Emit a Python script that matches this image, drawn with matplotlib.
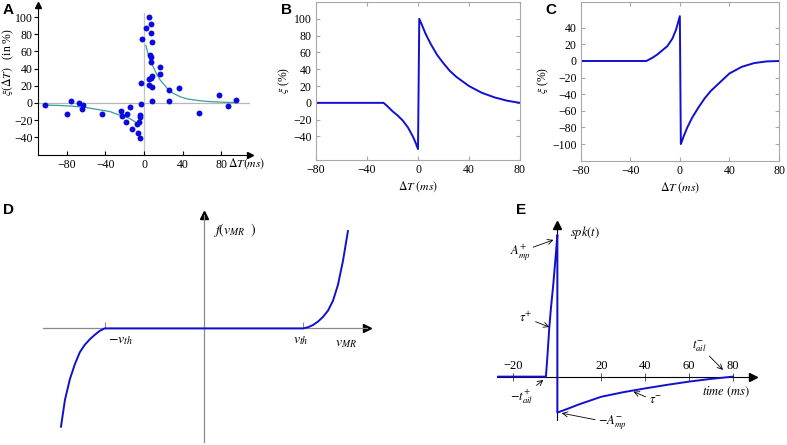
import matplotlib
matplotlib.use('Agg')
import matplotlib.pyplot as plt

plt.rcParams['font.family'] = 'serif'
plt.rcParams['font.serif'] = ['Liberation Serif', 'DejaVu Serif']
plt.rcParams['mathtext.fontset'] = 'stix'

W, H = 787, 445

# ---------------- panel A : data + fit ----------------
a_dt = [-102.9, -80.3, -75.8, -67.2, -64.7, -63.0, -44.0, -24.2, -23.2, -18.7,
        -18.0, -14.5, -12.1, -7.6, -6.2, -4.8, -4.2, -3.8, -4.2, -3.5,
        -3.5, -2.4, 1.7, 5.2, 6.9, 7.3, 8.0, 5.9, 7.3, 6.9,
        4.8, 5.2, 8.0, 6.9, 8.7, 8.0, 16.6, 16.3, 26.0, 26.3,
        36.0, 57.1, 77.9, 86.9, 95.9]
a_xi = [-2.3, -13.2, 2.7, 0.0, -7.4, -2.7, -13.2, -9.3, -15.1, -22.5,
        -13.2, -5.0, -30.6, -24.4, -34.5, -21.7, -14.0, -15.9, -41.1, 22.9,
        -0.8, 74.4, 87.6, 99.6, 91.9, 81.7, 70.5, 55.4, 48.0, 53.9,
        27.5, 20.9, 19.0, 29.5, 31.4, 2.3, 42.2, 33.7, 15.1, 2.3,
        17.4, -11.2, 9.3, -3.5, 3.1]

fit_l_dt = [-104.6, -90, -76.9, -63, -49, -35.3, -25.6, -21.5, -15, -9.4, -7.6]
fit_l_xi = [-2.3, -2.8, -3.5, -4.8, -7.4, -10, -14, -15.1, -18, -21.7, -23.6]
fit_r_dt = [1.9, 4, 6.2, 10, 13, 16.6, 20, 25.3, 30, 37.4, 45, 57.5, 70, 85, 96]
fit_r_xi = [67, 58, 50, 41, 34, 27, 22.5, 15.5, 11.5, 7.3, 4.7, 2.7, 1.5, 0.8, 0.5]

# ---------------- panel B / C : model curves ----------------
b_dt = [-80, -27, -24, -20, -16, -12, -8, -4, -2, 0, 1, 3, 6, 10, 15, 20, 25, 30, 40, 50, 60, 70, 80]
b_xi = [0, 0, -4, -10, -15, -21, -29, -40, -47, -55, 100, 93, 82, 70, 57, 47, 38, 31, 20, 12, 6.5, 2.5, 0]

c_dt = [-80, -27, -22, -18, -14, -10, -6, -3, 0, 0.8, 3, 6, 10, 15, 20, 25, 30, 40, 50, 60, 70, 80]
c_xi = [0, 0, 4, 8, 13, 18, 27, 38, 54, -100, -91, -80, -68, -56, -45, -36, -29, -15, -7, -2.5, -0.5, 0]

# ---------------- panel D : f(v_MR) ----------------
d_v = [-1.44, -1.4, -1.35, -1.3, -1.25, -1.2, -1.15, -1.1, -1.05, -1.0,
       1.0, 1.05, 1.1, 1.15, 1.2, 1.25, 1.3, 1.35, 1.4, 1.45]
d_f = [-0.99, -0.72, -0.51, -0.36, -0.24, -0.165, -0.11, -0.065, -0.025, 0,
       0, 0.012, 0.035, 0.07, 0.117, 0.18, 0.28, 0.44, 0.68, 0.98]

# ---------------- panel E : spk(t) ----------------
e_t = [-27, -5.2, -4.5, -3.65, -3, -1.8, -0.6, 0, 0, 5, 10, 20, 30, 40, 50, 60, 70, 80]
e_y = [0, 0, 15, 35, 47, 66, 88, 100, -25.4, -22.5, -19.5, -14.2, -11, -8.3, -5.8, -3.5, -1.6, 0]
e_ticks = [-20, 20, 40, 60, 80]

BLUE = '#1010d0'
TEAL = '#3a9c9c'
GRAY = '#a8a8a8'


def box(l, t, w, h):
    return [l / W, 1 - (t + h) / H, w / W, h / H]


fig = plt.figure(figsize=(W / 100, H / 100), dpi=100)

# =====================================================
# A
# =====================================================
axA = fig.add_axes(box(38, 5, 212, 150))
axA.set_xlim(-110, 110)
axA.set_ylim(-60.5, 114)
for s in ['top', 'right']:
    axA.spines[s].set_visible(False)
for s in ['left', 'bottom']:
    axA.spines[s].set_linewidth(0.8)
axA.axhline(0, color='#b8b8b8', lw=0.9, zorder=0)
axA.axvline(0, ymax=0.95, color='#c4c4c4', lw=0.9, zorder=0)
axA.plot(fit_l_dt, fit_l_xi, color=TEAL, lw=0.9)
axA.plot(fit_r_dt, fit_r_xi, color=TEAL, lw=0.9)
axA.scatter(a_dt, a_xi, s=18, color='#0a0ae0', zorder=3, linewidths=0)
axA.set_xticks([-80, -40, 0, 40, 80])
axA.set_yticks([-40, -20, 0, 20, 40, 60, 80, 100])
axA.tick_params(axis='x', direction='in', length=3, labelsize=8.5, pad=3)
axA.tick_params(axis='y', direction='out', length=3, labelsize=8.5, pad=1)
axA.plot([1], [0], marker='>', ms=5, color='k', transform=axA.transAxes, clip_on=False)
axA.plot([0], [1], marker='^', ms=5, color='k', transform=axA.transAxes, clip_on=False)
axA.text(87, -70.5, r'$\Delta T(ms)$', fontsize=8.5, ha='left', va='center')
axA.set_ylabel(r'$\xi(\Delta T)$   (in %)', fontsize=8.5)
axA.yaxis.set_label_coords(-0.105, 0.62)

# =====================================================
# B and C
# =====================================================
def frame_panel(ax, ylim, yticks):
    ax.set_xlim(-80, 80)
    ax.set_ylim(*ylim)
    ax.set_xticks([-80, -40, 0, 40, 80])
    ax.set_yticks(yticks)
    for s in ax.spines.values():
        s.set_color(GRAY)
        s.set_linewidth(0.8)
    ax.tick_params(direction='in', length=3, color=GRAY, labelsize=8.5,
                   top=True, right=True, pad=3)
    ax.set_xlabel(r'$\Delta T\ (ms)$', fontsize=8.5)
    ax.xaxis.set_label_coords(0.5, -0.125)
    ax.set_ylabel(r'$\xi$ (%)', fontsize=8.5)


axB = fig.add_axes(box(316, 2, 204, 158))
axB.plot(b_dt, b_xi, color=BLUE, lw=1.4)
frame_panel(axB, (-68, 120), [-40, -20, 0, 20, 40, 60, 80, 100])
axB.yaxis.set_label_coords(-0.12, 0.506)

axC = fig.add_axes(box(580.7, 2, 198.3, 158.7))
axC.plot(c_dt, c_xi, color=BLUE, lw=1.4)
frame_panel(axC, (-120, 71), [-100, -80, -60, -40, -20, 0, 20, 40])
axC.yaxis.set_label_coords(-0.15, 0.508)

# =====================================================
# D
# =====================================================
axD = fig.add_axes(box(43, 215, 323.7, 226.7))
axD.set_xlim(-1.621, 1.639)
axD.set_ylim(-1.141, 1.142)
axD.spines['top'].set_visible(False)
axD.spines['right'].set_visible(False)
axD.spines['left'].set_position(('data', 0))
axD.spines['bottom'].set_position(('data', 0))
for s in ['left', 'bottom']:
    axD.spines[s].set_color('#8a8a8a')
    axD.spines[s].set_linewidth(0.9)
axD.set_yticks([])
axD.set_xticks([-1, 1])
axD.set_xticklabels([])
axD.tick_params(axis='x', direction='in', length=4, color='#8a8a8a')
axD.plot(d_v, d_f, color=BLUE, lw=1.4, zorder=3)
axD.plot([1], [0], marker='>', ms=6, color='k', transform=axD.get_yaxis_transform(), clip_on=False)
axD.plot([0], [1], marker='^', ms=6, color='k', transform=axD.get_xaxis_transform(), clip_on=False)
axD.text(0.09, 0.99, r'$f(v_{MR}\ \ )$', fontsize=10, ha='left', va='center')
axD.text(-0.97, -0.13, r'$-v_{th}$', fontsize=10, ha='left', va='center')
axD.text(0.90, -0.13, r'$v_{th}$', fontsize=10, ha='left', va='center')
axD.text(1.32, -0.15, r'$v_{MR}$', fontsize=10, ha='left', va='center')

# =====================================================
# E
# =====================================================
axE = fig.add_axes(box(497, 225, 256.3, 195))
axE.set_xlim(-27.5, 89.3)
axE.set_ylim(-30.6, 107)
axE.spines['right'].set_visible(False)
axE.spines['bottom'].set_visible(False)
axE.spines['left'].set_position(('data', 0))
axE.spines['top'].set_position(('data', 0))
for s in ['left', 'top']:
    axE.spines[s].set_linewidth(0.8)
axE.xaxis.tick_top()
axE.set_xticks(e_ticks)
axE.set_yticks([])
axE.tick_params(axis='x', direction='inout', length=6, width=0.7, color='#555555',
                labelsize=9, pad=0)
axE.plot(e_t, e_y, color=BLUE, lw=1.4, zorder=3)
axE.plot([1], [0], marker='>', ms=6, color='k', transform=axE.get_yaxis_transform(), clip_on=False)
axE.plot([0], [1], marker='^', ms=6, color='k', transform=axE.get_xaxis_transform(), clip_on=False)

arrow = dict(arrowstyle='->', lw=0.6, color='k', shrinkA=0, shrinkB=0)
axE.text(5.8, 101.4, r'$spk(t)$', fontsize=9, ha='left', va='center')
axE.annotate(r'$A_{mp}^{+}$', xy=(-1.8, 96.5), xytext=(-17, 88), fontsize=9,
             ha='center', va='center', arrowprops=arrow, annotation_clip=False)
axE.annotate(r'$\tau^{+}$', xy=(-3.65, 35), xytext=(-14.3, 41.4), fontsize=9,
             ha='center', va='center', arrowprops=arrow, annotation_clip=False)
axE.annotate(r'$-t_{ail}^{+}$', xy=(-6.4, -2.3), xytext=(-16.1, -14.3), fontsize=9,
             ha='center', va='center', arrowprops=arrow, annotation_clip=False)
axE.annotate(r'$-A_{mp}^{-}$', xy=(2, -25.8), xytext=(25, -32.7), fontsize=9,
             ha='center', va='center', arrowprops=arrow, annotation_clip=False)
axE.annotate(r'$\tau^{-}$', xy=(34.7, -10.6), xytext=(44.6, -17.1), fontsize=9,
             ha='center', va='center', arrowprops=arrow, annotation_clip=False)
axE.annotate(r'$t_{ail}^{-}$', xy=(75.5, 4.7), xytext=(64.7, 21.7), fontsize=9,
             ha='center', va='center', arrowprops=arrow, annotation_clip=False)
axE.text(77, -10.8, r'$time\ (ms)$', fontsize=9, ha='center', va='center')

# =====================================================
# panel letters
# =====================================================
for lab, px, py in [('A', 3, 3), ('B', 281, 3), ('C', 545, 3), ('D', 3, 203), ('E', 516, 203)]:
    fig.text(px / W, 1 - py / H, lab, fontsize=11, fontweight='bold',
             family='Liberation Sans', ha='left', va='top')

fig.savefig('out.png', dpi=100)
